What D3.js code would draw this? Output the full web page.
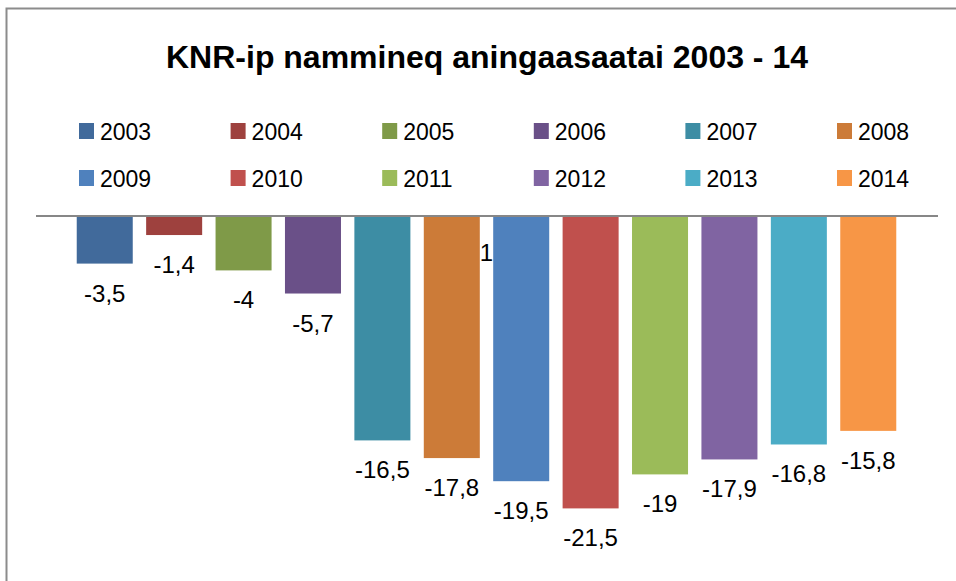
<!DOCTYPE html>
<html>
<head>
<script src="https://d3js.org/d3.v7.min.js"></script>
<style>
    body { margin: 0; background: #fff; }
    text { font-family: "Liberation Sans", Arial, sans-serif; fill: #000; }
</style>
</head>
<body>
<script>
    // data
    var years = ['2003', '2004', '2005', '2006', '2007', '2008', '2009', '2010', '2011', '2012', '2013', '2014'];
    var values = [-3.5, -1.4, -4, -5.7, -16.5, -17.8, -19.5, -21.5, -19, -17.9, -16.8, -15.8];
    var colors = ['#416a9b', '#9e413e', '#7f9a48', '#6a5088', '#3d8da4', '#cc7b38',
                  '#4f81bd', '#c0504d', '#9bbb59', '#8064a2', '#4bacc6', '#f79646'];

    var width = 956, height = 581;

    var svg = d3.select('body')
        .append('svg')
        .attr('width', width)
        .attr('height', height);

    // chart frame
    svg.append('rect')
        .attr('x', 6.5).attr('y', 8.5)
        .attr('width', 980).attr('height', 600)
        .attr('fill', 'none')
        .attr('stroke', '#8c8c8c')
        .attr('stroke-width', 2);

    // title
    svg.append('text')
        .attr('x', 487)
        .attr('y', 68)
        .attr('text-anchor', 'middle')
        .style('font-size', '32px')
        .style('font-weight', 'bold')
        .text('KNR-ip nammineq aningaasaatai 2003 - 14');

    // scales
    var xScale = d3.scaleBand()
        .domain(years)
        .range([70, 903])
        .paddingInner(0.193)
        .paddingOuter(0.097);

    var yScale = d3.scaleLinear()
        .domain([-25, 0])
        .range([556, 216]);

    var color = d3.scaleOrdinal().domain(years).range(colors);

    // bars
    svg.selectAll('rect.bar')
        .data(values)
        .enter()
        .append('rect')
        .attr('class', 'bar')
        .attr('x', (d, i) => xScale(years[i]))
        .attr('y', yScale(0))
        .attr('width', xScale.bandwidth())
        .attr('height', d => yScale(d) - yScale(0))
        .attr('fill', (d, i) => color(years[i]));

    // zero axis line
    svg.append('line')
        .attr('x1', 36).attr('x2', 938)
        .attr('y1', yScale(0)).attr('y2', yScale(0))
        .attr('stroke', '#878787')
        .attr('stroke-width', 2);

    // data labels
    var fmt = d => String(d).replace('.', ',');
    svg.selectAll('text.label')
        .data(values)
        .enter()
        .append('text')
        .attr('class', 'label')
        .attr('x', (d, i) => xScale(years[i]) + xScale.bandwidth() / 2)
        .attr('y', d => yScale(d) + 38)
        .attr('text-anchor', 'middle')
        .style('font-size', '24px')
        .text(fmt);

    // stray label seen in the original
    svg.append('text')
        .attr('x', (xScale('2008') + xScale.bandwidth() + xScale('2009')) / 2)
        .attr('y', 261)
        .attr('text-anchor', 'middle')
        .style('font-size', '24px')
        .text('1');

    // legend, two rows of six
    var legend = svg.append('g').attr('id', 'legend');
    var item = legend.selectAll('g')
        .data(years)
        .enter()
        .append('g')
        .attr('transform', (d, i) => 'translate(' + (79 + (i % 6) * 151.6) + ',' + (123 + Math.floor(i / 6) * 47) + ')');

    item.append('rect')
        .attr('width', 15)
        .attr('height', 16)
        .attr('fill', d => color(d));

    item.append('text')
        .attr('x', 21)
        .attr('y', 16.5)
        .style('font-size', '23px')
        .text(d => d);
</script>
</body>
</html>
